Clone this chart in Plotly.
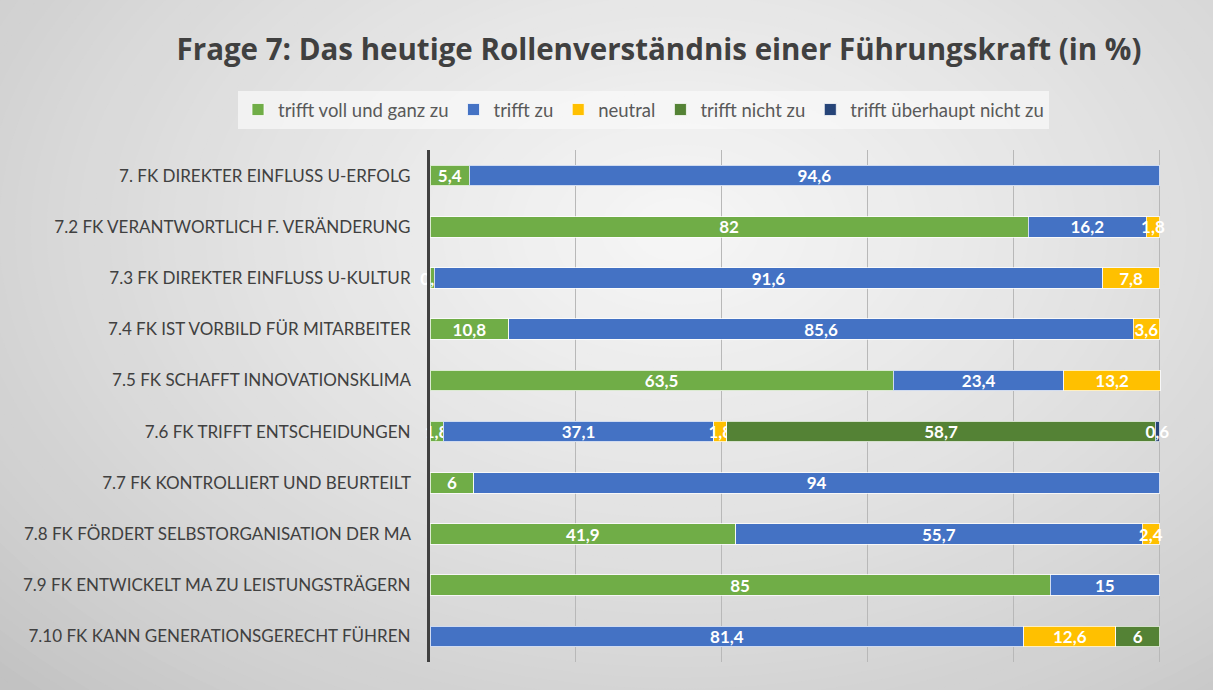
import plotly.graph_objects as go

# Frage 7 - Rollenverständnis Führungskraft, Werte in %
categories = [
    "7. FK DIREKTER EINFLUSS U-ERFOLG",
    "7.2 FK VERANTWORTLICH F. VERÄNDERUNG",
    "7.3 FK DIREKTER EINFLUSS U-KULTUR",
    "7.4 FK IST VORBILD FÜR MITARBEITER",
    "7.5 FK SCHAFFT INNOVATIONSKLIMA",
    "7.6 FK TRIFFT ENTSCHEIDUNGEN",
    "7.7 FK KONTROLLIERT UND BEURTEILT",
    "7.8 FK FÖRDERT SELBSTORGANISATION DER MA",
    "7.9 FK ENTWICKELT MA ZU LEISTUNGSTRÄGERN",
    "7.10 FK KANN GENERATIONSGERECHT FÜHREN",
]

voll_und_ganz = [5.4, 82, 0.6, 10.8, 63.5, 1.8, 6, 41.9, 85, 0]
trifft_zu = [94.6, 16.2, 91.6, 85.6, 23.4, 37.1, 94, 55.7, 15, 81.4]
neutral = [0, 1.8, 7.8, 3.6, 13.2, 1.8, 0, 2.4, 0, 12.6]
nicht_zu = [0, 0, 0, 0, 0, 58.7, 0, 0, 0, 6]
ueberhaupt_nicht = [0, 0, 0, 0, 0, 0.6, 0, 0, 0, 0]

series = [
    ("trifft voll und ganz zu", voll_und_ganz, "#70AD47"),
    ("trifft zu", trifft_zu, "#4472C4"),
    ("neutral", neutral, "#FFC000"),
    ("trifft nicht zu", nicht_zu, "#548235"),
    ("trifft überhaupt nicht zu", ueberhaupt_nicht, "#264478"),
]

def fmt(v):
    if not v:
        return ""
    return ("%g" % v).replace(".", ",")

fig = go.Figure()
for name, vals, col in series:
    fig.add_trace(go.Bar(
        y=categories, x=[v if v else None for v in vals], name=name, orientation="h",
        marker=dict(color=col, line=dict(color="rgba(255,255,255,0.75)", width=1)),
        text=[fmt(v) for v in vals], textposition="inside", insidetextanchor="middle",
        textangle=0,
        textfont=dict(color="white", size=17, family="Lato", weight="bold"),
        constraintext="none", cliponaxis=False,
    ))

# radial-ish grey background, light in the centre
W, H = 1213, 690
pl, pr, pt, pb = 430, 52, 150, 28
pw, ph = W - pl - pr, H - pt - pb
shapes = []
n = 60
cx, cy = 680, 230
for i in range(n):
    f = 1 - i / n
    rx, ry = 950 * f, 640 * f
    g = 194 + (246 - 194) * (i / (n - 1)) ** 0.8
    g = int(round(g))
    x0, x1 = (cx - rx - pl) / pw, (cx + rx - pl) / pw
    y0, y1 = (H - (cy + ry) - pb) / ph, (H - (cy - ry) - pb) / ph
    shapes.append(dict(type="circle", xref="paper", yref="paper", x0=x0, x1=x1, y0=y0, y1=y1,
                       fillcolor="rgb(%d,%d,%d)" % (g, g, g), line=dict(width=0), layer="below"))

fig.update_layout(
    barmode="stack", bargap=0.6,
    width=W, height=H,
    margin=dict(l=pl, r=pr, t=pt, b=pb),
    paper_bgcolor="rgb(194,194,194)", plot_bgcolor="rgba(0,0,0,0)",
    shapes=shapes,
    title=dict(text="<b>Frage 7: Das heutige Rollenverständnis einer Führungskraft (in %)</b>",
               x=659 / W, xanchor="center", y=1 - 50 / H, yanchor="middle",
               font=dict(family="Open Sans", size=29.5, color="#404040")),
    legend=dict(orientation="h", x=(238 - pl) / pw, xanchor="left",
                y=(H - 110 - pb) / ph, yanchor="middle", bgcolor="rgba(250,250,250,0.7)",
                font=dict(family="Lato", size=18.5, color="#595959"), traceorder="normal",
                itemwidth=30),
    uniformtext=dict(minsize=17, mode="show"),
    font=dict(family="Lato", color="#404040"),
    showlegend=True,
)
fig.update_xaxes(range=[0, 100.2], dtick=20, showticklabels=False, showgrid=True,
                 gridcolor="#b8b8b8", gridwidth=1, zeroline=False, fixedrange=True)
fig.update_yaxes(autorange="reversed", showline=True, linecolor="#404040", linewidth=3,
                 ticks="", ticksuffix="   ", tickfont=dict(family="Lato", size=17, color="#404040"))

fig.write_html("out.html", config={"displayModeBar": False},
               post_script="document.body.style.margin='0';document.body.style.overflow='hidden';")
